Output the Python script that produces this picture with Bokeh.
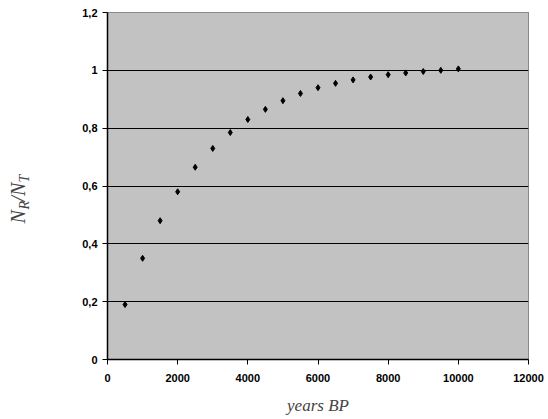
import math
from bokeh.plotting import figure
from bokeh.layouts import row
from bokeh.models import FixedTicker, CustomJSTickFormatter, Label, Range1d
from bokeh.embed import file_html
from bokeh.resources import INLINE

years = [500, 1000, 1500, 2000, 2500, 3000, 3500, 4000, 4500, 5000,
         5500, 6000, 6500, 7000, 7500, 8000, 8500, 9000, 9500, 10000]
ratio = [0.19, 0.35, 0.48, 0.58, 0.665, 0.73, 0.785, 0.83, 0.865, 0.895,
         0.92, 0.94, 0.955, 0.967, 0.977, 0.985, 0.991, 0.996, 1.0, 1.005]
x_ticks = [0, 2000, 4000, 6000, 8000, 10000, 12000]
y_ticks = [0, 0.2, 0.4, 0.6, 0.8, 1.0, 1.2]
grid_ticks = [0.2, 0.4, 0.6, 0.8, 1.0]

LW = 40
p = figure(width=548 - LW, height=419, output_backend="svg", toolbar_location=None,
           x_range=Range1d(0, 12000), y_range=Range1d(0, 1.2),
           min_border_left=107 - LW, min_border_right=20, min_border_top=12,
           min_border_bottom=60)
p.background_fill_color = "#c2c2c2"
p.border_fill_color = "white"
p.outline_line_color = "#333333"
p.outline_line_dash = "1 1"

p.xgrid.grid_line_color = None
p.ygrid.grid_line_color = "black"
p.ygrid.grid_line_width = 1
p.ygrid.ticker = FixedTicker(ticks=grid_ticks)

for ax in (p.xaxis, p.yaxis):
    ax.axis_line_color = "black"
    ax.axis_line_width = 1.5
    ax.major_tick_line_color = "black"
    ax.major_tick_out = 5
    ax.major_tick_in = 0
    ax.minor_tick_line_color = None
    ax.major_label_text_font = "Liberation Sans"
    ax.major_label_text_font_size = "11px"
    ax.major_label_text_font_style = "bold"
    ax.major_label_text_color = "black"

p.xaxis.ticker = FixedTicker(ticks=x_ticks)
p.yaxis.ticker = FixedTicker(ticks=y_ticks)
p.xaxis.major_label_standoff = 9
p.yaxis.major_label_standoff = 5
p.yaxis.formatter = CustomJSTickFormatter(
    code="return (Math.round(tick*10)/10).toString().replace('.', ',');")
p.xaxis.axis_label = "years BP"
p.xaxis.axis_label_text_font = "Liberation Serif"
p.xaxis.axis_label_text_font_style = "italic"
p.xaxis.axis_label_text_font_size = "17px"
p.xaxis.axis_label_standoff = 11

p.scatter(years, ratio, marker="diamond", size=6, color="black")

# narrow panel on the left carrying the rotated y label N_R/N_T
lf = figure(width=LW, height=419, output_backend="svg", toolbar_location=None,
            x_range=Range1d(0, 1), y_range=Range1d(0, 1),
            min_border_left=0, min_border_right=0, min_border_top=0,
            min_border_bottom=0)
lf.axis.visible = False
lf.grid.visible = False
lf.outline_line_color = None
lf.background_fill_color = "white"
lf.border_fill_color = "white"

ang = math.pi / 2
parts = [("N", 17, 136, "20px"), ("R", 24, 150, "14px"),
         ("/N", 17, 158, "20px"), ("T", 24, 177, "14px")]
for txt, lx, ly, fs in parts:
    lf.add_layout(Label(x=lx, y=ly, x_units="screen", y_units="screen",
                        text=txt, angle=ang, text_font="Liberation Serif",
                        text_font_style="italic", text_font_size=fs,
                        text_baseline="alphabetic", text_align="left"))

layout = row(lf, p, spacing=0)
open("out.html", "w").write(file_html(layout, INLINE))
